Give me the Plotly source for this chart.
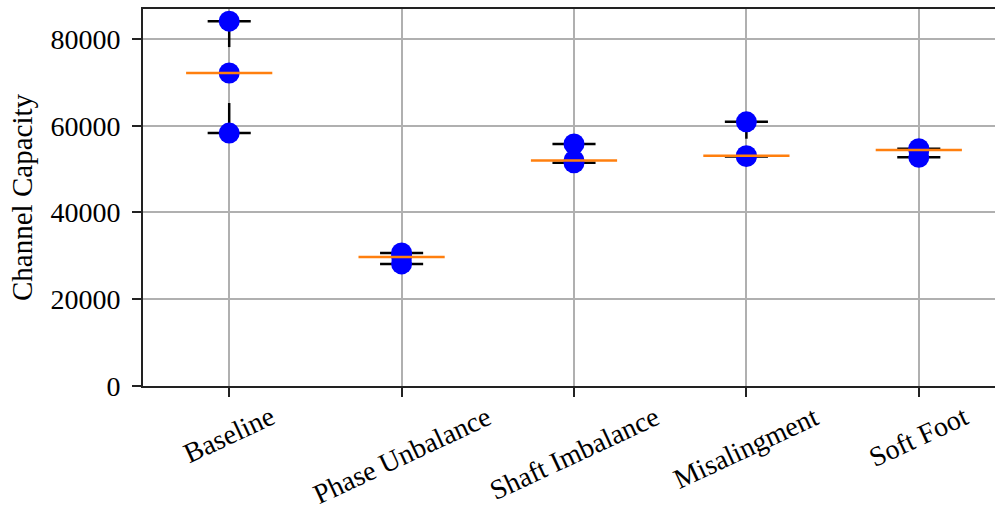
import numpy as np
import plotly.graph_objects as go

categories = ["Baseline", "Phase Unbalance", "Shaft Imbalance", "Misalingment", "Soft Foot"]
baseline = [84100, 72150, 58300]
phase_unbalance = [30650, 29750, 28150]
shaft_imbalance = [55800, 52000, 51450]
misalignment = [60900, 53100, 52900]
soft_foot = [54700, 54400, 52700]
series = [baseline, phase_unbalance, shaft_imbalance, misalignment, soft_foot]
y_ticks = [0, 20000, 40000, 60000, 80000]

FONT = "Liberation Serif"
FS = 28
positions = list(range(1, len(categories) + 1))
cap_half = 0.125
med_half = 0.25

fig = go.Figure()

# whiskers and caps
wx, wy, cx, cy, mx, my = [], [], [], [], [], []
for p, vals in zip(positions, series):
    v = np.array(vals, dtype=float)
    q1, med, q3 = np.percentile(v, [25, 50, 75])
    lo, hi = v.min(), v.max()
    wx += [p, p, None, p, p, None]
    wy += [q3, hi, None, q1, lo, None]
    cx += [p - cap_half, p + cap_half, None, p - cap_half, p + cap_half, None]
    cy += [hi, hi, None, lo, lo, None]
    mx += [p - med_half, p + med_half, None]
    my += [med, med, None]

fig.add_trace(go.Scatter(x=wx, y=wy, mode="lines", line=dict(color="black", width=2.5),
                         hoverinfo="skip", showlegend=False))
fig.add_trace(go.Scatter(x=cx, y=cy, mode="lines", line=dict(color="black", width=2.5),
                         hoverinfo="skip", showlegend=False))

px, py = [], []
for p, vals in zip(positions, series):
    px += [p] * len(vals)
    py += list(vals)
fig.add_trace(go.Scatter(x=px, y=py, mode="markers",
                         marker=dict(color="#0000ff", size=21, line=dict(width=0)),
                         showlegend=False))

fig.add_trace(go.Scatter(x=mx, y=my, mode="lines", line=dict(color="#ff7f0e", width=2.5),
                         hoverinfo="skip", showlegend=False))

for p, name in zip(positions, categories):
    fig.add_annotation(x=p, xref="x", y=0, yref="paper", text=name, showarrow=False,
                       textangle=-25, xanchor="center", yanchor="top", yshift=-12,
                       font=dict(family=FONT, size=FS, color="black"))

fig.update_layout(
    width=995, height=511,
    margin=dict(l=143, r=0, t=9, b=125),
    paper_bgcolor="white", plot_bgcolor="white",
    font=dict(family=FONT, size=FS, color="black"),
    xaxis=dict(range=[0.5, 5.442], tickvals=positions, ticktext=[""] * len(positions),
               showgrid=True, gridcolor="#b0b0b0", gridwidth=2,
               showline=True, linecolor="#222222", linewidth=2, mirror=True,
               ticks="outside", ticklen=9, tickwidth=2, tickcolor="#222222",
               zeroline=False),
    yaxis=dict(range=[0, 86900], tickvals=y_ticks, ticktext=[str(t) for t in y_ticks],
               showgrid=True, gridcolor="#b0b0b0", gridwidth=2,
               showline=True, linecolor="#222222", linewidth=2,
               ticks="outside", ticklen=9, tickwidth=2, tickcolor="#222222",
               ticklabelstandoff=6, zeroline=False,
               title=dict(text="Channel Capacity", standoff=9,
                          font=dict(family=FONT, size=29))),
)

fig.write_html("out.html")
